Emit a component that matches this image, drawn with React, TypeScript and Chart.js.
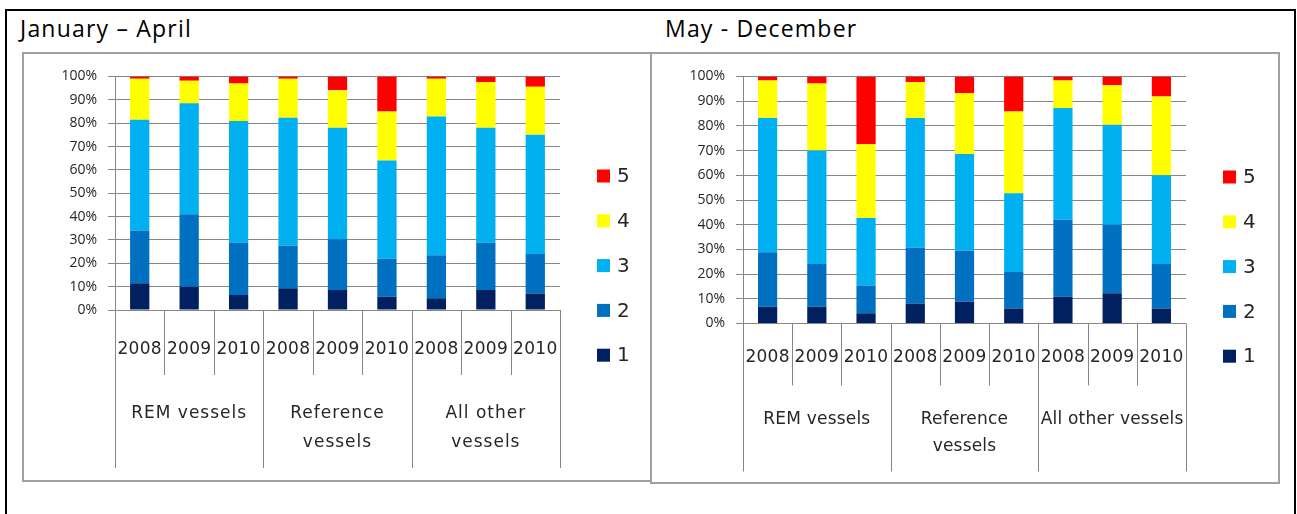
import React, { useEffect, useRef } from "react";
import { Chart, registerables } from "chart.js";

Chart.register(...registerables);

// ---------- data ----------
const yearLabels = ["2008", "2009", "2010", "2008", "2009", "2010", "2008", "2009", "2010"];
const groupLabelsJanApr = [["REM vessels"], ["Reference", "vessels"], ["All other", "vessels"]];
const groupLabelsMayDec = [["REM vessels"], ["Reference", "vessels"], ["All other vessels"]];
const seriesNames = ["1", "2", "3", "4", "5"];
const seriesColors = ["#002060", "#0070C0", "#00B0F0", "#FFFF00", "#FF0000"];

const janApr1 = [11.5, 10, 6.4, 9.3, 8.6, 5.7, 5, 8.6, 7.1];
const janApr2 = [22.5, 31, 22.5, 18.3, 21.7, 16.2, 18.4, 20.3, 16.9];
const janApr3 = [47.5, 47.5, 52, 54.7, 47.7, 42.1, 59.5, 49.1, 51.1];
const janApr4 = [17.5, 9.7, 16.1, 16.7, 16.1, 21, 16.1, 19.6, 20.5];
const janApr5 = [1, 1.8, 3, 1, 5.9, 15, 1, 2.4, 4.4];

const mayDec1 = [6.8, 6.8, 4.1, 8.1, 8.8, 6.1, 10.8, 12.2, 6.1];
const mayDec2 = [22, 17.3, 11.3, 22.6, 20.7, 14.7, 31.2, 27.8, 18];
const mayDec3 = [54.4, 45.9, 27.3, 52.5, 39.1, 31.9, 45.2, 40.5, 35.9];
const mayDec4 = [15.2, 27.2, 29.9, 14.6, 24.6, 33.1, 11.2, 16, 31.9];
const mayDec5 = [1.6, 2.8, 27.4, 2.2, 6.8, 14.2, 1.6, 3.5, 8.1];

const titleJanApr = "January – April";
const titleMayDec = "May - December";

// ---------- layout ----------
const PAGE_W = 1297;
const PAGE_H = 514;
const GRID = "#868686";
const TEXT = "#262626";

type Panel = {
  series: number[][];
  groups: string[][];
  area: { left: number; right: number; top: number; bottom: number };
  yearY: number;
  yearSep: number;
  groupSep: number;
  groupY: number;
  groupLineH: number;
  groupSpacing: string;
  legendX: number;
  legendTop: number;
  legendStep: number;
};

const panels: Panel[] = [
  {
    series: [janApr1, janApr2, janApr3, janApr4, janApr5],
    groups: groupLabelsJanApr,
    area: { left: 115, right: 560, top: 76.5, bottom: 310 },
    yearY: 40,
    yearSep: 65,
    groupSep: 158,
    groupY: 104,
    groupLineH: 29,
    groupSpacing: "1px",
    legendX: 597,
    legendTop: 176,
    legendStep: 44.8,
  },
  {
    series: [mayDec1, mayDec2, mayDec3, mayDec4, mayDec5],
    groups: groupLabelsMayDec,
    area: { left: 743, right: 1186, top: 76.5, bottom: 323.5 },
    yearY: 34,
    yearSep: 62,
    groupSep: 148,
    groupY: 96,
    groupLineH: 27,
    groupSpacing: "0.2px",
    legendX: 1223,
    legendTop: 177,
    legendStep: 44.8,
  },
];

const axisPlugin = {
  id: "multiAxis",
  afterDraw(chart: any, _args: any, opts: any) {
    const ctx = chart.ctx as CanvasRenderingContext2D;
    const xs = chart.scales.x;
    const bottom = chart.chartArea.bottom;
    const n = chart.data.labels.length;
    const step = xs.getPixelForValue(1) - xs.getPixelForValue(0);
    const x0 = xs.getPixelForValue(0) - step / 2;
    ctx.save();
    ctx.strokeStyle = GRID;
    ctx.lineWidth = 1;
    for (let i = 0; i <= n; i++) {
      const px = Math.round(x0 + i * step) + 0.5;
      const depth = i % 3 === 0 ? opts.groupSep : opts.yearSep;
      ctx.beginPath();
      ctx.moveTo(px, bottom);
      ctx.lineTo(px, bottom + depth);
      ctx.stroke();
    }
    ctx.fillStyle = TEXT;
    ctx.textAlign = "center";
    ctx.textBaseline = "middle";
    (ctx as any).letterSpacing = "0.3px";
    ctx.font = "17px 'DejaVu Sans'";
    chart.data.labels.forEach((l: string, i: number) => {
      ctx.fillText(l, xs.getPixelForValue(i), bottom + opts.yearY);
    });
    (ctx as any).letterSpacing = opts.groupSpacing;
    ctx.font = "17px 'DejaVu Sans'";
    opts.groups.forEach((lines: string[], g: number) => {
      const cx = x0 + (g * 3 + 1.5) * step;
      lines.forEach((line, k) => {
        ctx.fillText(line, cx, bottom + opts.groupY + k * opts.groupLineH);
      });
    });
    // legend (reverse order, 5 at top)
    (ctx as any).letterSpacing = "0px";
    ctx.textAlign = "left";
    ctx.font = "20px 'DejaVu Sans'";
    const ds = chart.data.datasets;
    for (let k = ds.length - 1; k >= 0; k--) {
      const y = opts.legendTop + (ds.length - 1 - k) * opts.legendStep;
      ctx.fillStyle = ds[k].backgroundColor;
      ctx.fillRect(opts.legendX, y - 6.5, 13, 13);
      ctx.fillStyle = TEXT;
      ctx.fillText(ds[k].label, opts.legendX + 20, y + 1);
    }
    ctx.restore();
  },
};

function PanelChart({ panel }: { panel: Panel }) {
  const ref = useRef<HTMLCanvasElement | null>(null);
  useEffect(() => {
    if (!ref.current) return;
    const yW = 60;
    const chart = new Chart(ref.current, {
      type: "bar",
      data: {
        labels: yearLabels,
        datasets: panel.series.map((vals, i) => ({
          label: seriesNames[i],
          data: vals,
          backgroundColor: seriesColors[i],
          borderWidth: 0,
          barPercentage: 0.39,
          categoryPercentage: 1,
        })),
      },
      options: {
        animation: false,
        responsive: false,
        devicePixelRatio: 1,
        layout: {
          padding: {
            left: panel.area.left - yW,
            right: PAGE_W - panel.area.right,
            top: panel.area.top,
            bottom: PAGE_H - panel.area.bottom,
          },
        },
        plugins: {
          legend: { display: false },
          tooltip: { enabled: false },
          multiAxis: {
            groups: panel.groups,
            yearY: panel.yearY,
            yearSep: panel.yearSep,
            groupSep: panel.groupSep,
            groupY: panel.groupY,
            groupLineH: panel.groupLineH,
            groupSpacing: panel.groupSpacing,
            legendX: panel.legendX,
            legendTop: panel.legendTop,
            legendStep: panel.legendStep,
          },
        } as any,
        scales: {
          x: {
            stacked: true,
            display: false,
          },
          y: {
            stacked: true,
            min: 0,
            max: 100,
            afterFit: (s: any) => {
              s.width = yW;
            },
            ticks: {
              stepSize: 10,
              padding: 11,
              color: TEXT,
              font: { family: "'Open Sans'", size: 14 },
              callback: (v: any) => v + "%",
            },
            grid: { color: GRID, lineWidth: 1, tickLength: 7 },
            border: { color: GRID, width: 1 },
          },
        },
      },
      plugins: [axisPlugin],
    });
    return () => chart.destroy();
  }, [panel]);
  return (
    <canvas
      ref={ref}
      width={PAGE_W}
      height={PAGE_H}
      style={{ position: "absolute", left: 0, top: 0, width: PAGE_W, height: PAGE_H }}
    />
  );
}

export default function App() {
  const titleStyle: React.CSSProperties = {
    position: "absolute",
    top: 13,
    fontFamily: "'Open Sans', sans-serif",
    fontSize: 23,
    letterSpacing: "1.2px",
    lineHeight: "30px",
    color: "#000",
    whiteSpace: "nowrap",
  };
  return (
    <div style={{ position: "absolute", left: 0, top: 0, width: PAGE_W, height: PAGE_H, overflow: "hidden", background: "#fff" }}>
      <div style={{ position: "absolute", left: 5, top: 9, width: 1291, height: 540, border: "2px solid #000", boxSizing: "border-box" }} />
      <div style={{ ...titleStyle, left: 20 }}>{titleJanApr}</div>
      <div style={{ ...titleStyle, left: 665 }}>{titleMayDec}</div>
      <div style={{ position: "absolute", left: 22, top: 52, width: 630, height: 430, border: "2px solid #a0a0a0", boxSizing: "border-box" }} />
      <div style={{ position: "absolute", left: 650, top: 52, width: 630, height: 432, border: "2px solid #a0a0a0", boxSizing: "border-box" }} />
      {panels.map((p, i) => (
        <PanelChart key={i} panel={p} />
      ))}
    </div>
  );
}
